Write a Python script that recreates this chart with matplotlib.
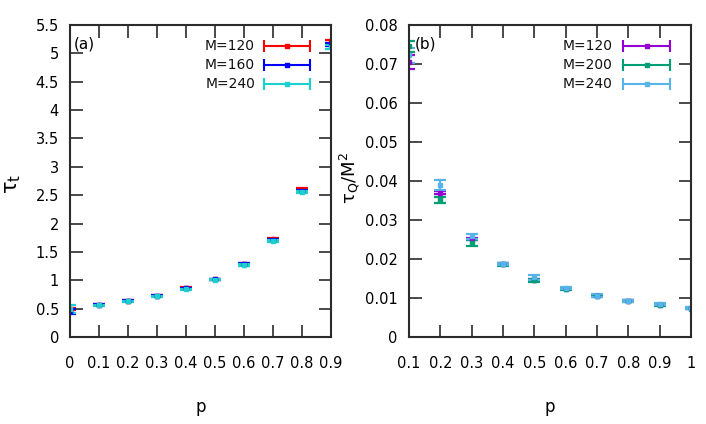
import matplotlib
matplotlib.use("Agg")
import matplotlib.pyplot as plt
import numpy as np

# panel (a): tau_t vs p
p_a = [0.0, 0.1, 0.2, 0.3, 0.4, 0.5, 0.6, 0.7, 0.8, 0.9]
tau_120 = [0.49, 0.57, 0.64, 0.73, 0.87, 1.02, 1.29, 1.72, 2.60, 5.21]
err_120 = [0.02, 0.01, 0.01, 0.01, 0.01, 0.01, 0.01, 0.02, 0.02, 0.03]
tau_160 = [0.45, 0.57, 0.64, 0.73, 0.86, 1.02, 1.29, 1.71, 2.58, 5.16]
err_160 = [0.04, 0.01, 0.01, 0.01, 0.01, 0.01, 0.01, 0.02, 0.02, 0.03]
tau_240 = [0.49, 0.56, 0.63, 0.72, 0.84, 1.01, 1.27, 1.69, 2.55, 5.11]
err_240 = [0.07, 0.01, 0.01, 0.01, 0.01, 0.01, 0.01, 0.02, 0.02, 0.03]

# panel (b): tau_Q/M^2 vs p
p_b = [0.1, 0.2, 0.3, 0.4, 0.5, 0.6, 0.7, 0.8, 0.9, 1.0]
tq_120 = [0.0705, 0.0370, 0.0251, 0.0188, 0.0146, 0.0124, 0.0106, 0.0093, 0.0083, 0.0074]
tqe_120 = [0.0017, 0.0004, 0.0003, 0.0002, 0.0002, 0.0002, 0.0002, 0.0001, 0.0001, 0.0001]
tq_200 = [0.0745, 0.0352, 0.0241, 0.0186, 0.0145, 0.0122, 0.0104, 0.0092, 0.0082, 0.0073]
tqe_200 = [0.0015, 0.0008, 0.0007, 0.0003, 0.0003, 0.0002, 0.0002, 0.0002, 0.0002, 0.0002]
tq_240 = [0.0722, 0.0390, 0.0258, 0.0188, 0.0153, 0.0125, 0.0106, 0.0093, 0.0084, 0.0074]
tqe_240 = [0.0020, 0.0012, 0.0007, 0.0003, 0.0006, 0.0003, 0.0003, 0.0002, 0.0002, 0.0002]

plt.rcParams['font.family'] = ['DejaVu Sans']
plt.rcParams['font.size'] = 10
plt.rcParams['mathtext.default'] = 'regular'

fig = plt.figure(figsize=(7.06, 4.24), dpi=100)
ax1 = fig.add_axes([0.0992, 0.2052, 0.3697, 0.7358])
ax2 = fig.add_axes([0.5793, 0.2052, 0.3994, 0.7358])

edge = '#2b2b2b'


def series(ax, x, y, e, col):
    ax.errorbar(x, y, yerr=e, fmt='s', color=col, ms=2.5, elinewidth=1.5,
                capsize=4, capthick=1.6)


def legend_row(ax, label, col, ty, tx, x0, x1):
    ax.text(tx, ty, label, transform=ax.transAxes, ha='right', va='center',
            fontsize=10, color='#111111')
    ax.plot([x0, x1], [ty, ty], color=col, lw=1.5, transform=ax.transAxes, clip_on=False)
    ax.plot([x0, x1], [ty, ty], ls='none', marker='|', ms=9, mew=1.5, color=col,
            transform=ax.transAxes, clip_on=False)
    ax.plot([(x0 + x1) / 2], [ty], ls='none', marker='s', ms=2.5, color=col,
            transform=ax.transAxes, clip_on=False)


def style(ax):
    for s in ax.spines.values():
        s.set_color(edge)
        s.set_linewidth(1.5)
    ax.tick_params(direction='in', top=True, right=True, length=9, width=1.2,
                   color=edge, labelsize=10.5)
    ax.tick_params(axis='x', pad=14)
    ax.tick_params(axis='y', pad=8)
    ax.xaxis.set_major_formatter(plt.FormatStrFormatter('%g'))
    ax.yaxis.set_major_formatter(plt.FormatStrFormatter('%g'))


# (a)
series(ax1, p_a, tau_120, err_120, '#ff0000')
series(ax1, p_a, tau_160, err_160, '#0000ff')
series(ax1, p_a, tau_240, err_240, '#1ccfd0')
ax1.set_xlim(0, 0.9)
ax1.set_ylim(0, 5.5)
ax1.set_xticks(np.arange(0, 0.91, 0.1))
ax1.set_yticks(np.arange(0, 5.51, 0.5))
style(ax1)
ax1.set_xlabel('p', fontsize=12, labelpad=19)
ax1.set_ylabel(r'$\tau_t$', fontsize=15)
ax1.yaxis.set_label_coords(-0.18, 0.49)
ax1.text(0.015, 0.94, '(a)', transform=ax1.transAxes, ha='left', va='center', fontsize=11)
legend_row(ax1, 'M=120', '#ff0000', 0.933, 0.709, 0.743, 0.920)
legend_row(ax1, 'M=160', '#0000ff', 0.872, 0.709, 0.743, 0.920)
legend_row(ax1, 'M=240', '#1ccfd0', 0.811, 0.709, 0.743, 0.920)

# (b)
series(ax2, p_b, tq_120, tqe_120, '#9400d3')
series(ax2, p_b, tq_200, tqe_200, '#009e73')
series(ax2, p_b, tq_240, tqe_240, '#56b4e9')
ax2.set_xlim(0.1, 1.0)
ax2.set_ylim(0, 0.08)
ax2.set_xticks(np.arange(0.1, 1.01, 0.1))
ax2.set_yticks(np.arange(0, 0.0801, 0.01))
style(ax2)
ax2.set_xlabel('p', fontsize=12, labelpad=19)
ax2.set_ylabel(r'$\tau_Q/M^2$', fontsize=13)
ax2.yaxis.set_label_coords(-0.165, 0.51)
ax2.text(0.02, 0.94, '(b)', transform=ax2.transAxes, ha='left', va='center', fontsize=11)
legend_row(ax2, 'M=120', '#9400d3', 0.933, 0.723, 0.759, 0.926)
legend_row(ax2, 'M=200', '#009e73', 0.872, 0.723, 0.759, 0.926)
legend_row(ax2, 'M=240', '#56b4e9', 0.811, 0.723, 0.759, 0.926)

fig.savefig('out.png', dpi=100)
